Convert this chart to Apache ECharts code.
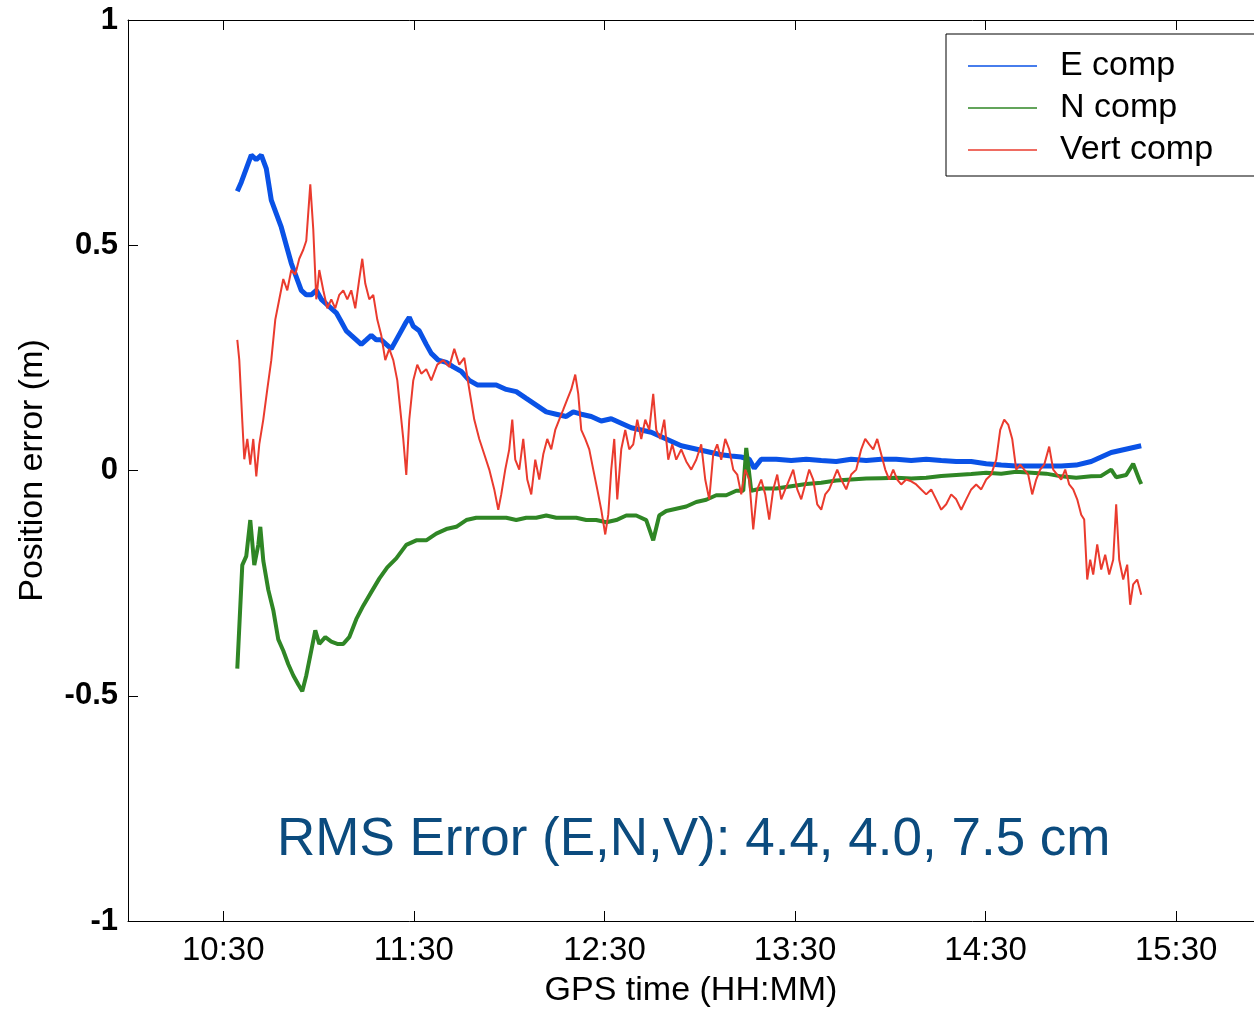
<!DOCTYPE html>
<html>
<head>
    <meta charset="UTF-8">
    <title>GPS position error</title>
    <script src="https://cdn.jsdelivr.net/npm/echarts@6/dist/echarts.min.js"></script>
    <style>
        html, body { margin: 0; padding: 0; background: #fff; }
        #main { width: 1254px; height: 1009px; }
    </style>
</head>
<body>
    <div id="main"></div>
    <script type="text/javascript">
        // times are minutes after 10:30 GPS time, values in metres
        const eT = [4.41, 5.67, 7.24, 8.81, 10.39, 11.96, 13.54, 15.11, 16.68, 18.26, 19.83, 21.41, 22.98, 24.55, 26.13,
            27.70, 29.28, 30.85, 32.42, 34.00, 35.57, 37.15, 38.72, 40.29, 41.87, 43.44, 45.02, 46.59, 48.16, 49.74,
            51.31, 52.89, 54.46, 56.03, 57.61, 58.55, 59.81, 61.70, 63.90, 65.48, 67.68, 70.20, 72.40, 74.92, 77.44,
            79.96, 82.79, 85.94, 89.09, 92.24, 95.38, 98.53, 101.68, 104.83, 107.98, 110.18, 112.70, 115.85, 118.99,
            122.14, 125.29, 128.44, 131.59, 134.73, 137.88, 141.03, 144.18, 147.33, 150.47, 153.62, 156.77, 159.92,
            163.07, 165.58, 167.16, 169.36, 174.08, 178.81, 183.53, 188.25, 192.97, 197.69, 202.42, 207.14, 211.86,
            216.58, 221.30, 226.03, 230.75, 235.47, 240.19, 244.91, 249.64, 254.36, 259.08, 263.80, 268.52, 273.25,
            276.39, 279.54, 282.69, 285.84, 288.99];
        const eV = [0.62, 0.64, 0.67, 0.70, 0.69, 0.70, 0.67, 0.60, 0.57, 0.54, 0.50, 0.46, 0.43, 0.40, 0.39,
            0.39, 0.40, 0.38, 0.37, 0.36, 0.35, 0.33, 0.31, 0.30, 0.29, 0.28, 0.29, 0.30, 0.29, 0.29,
            0.28, 0.27, 0.29, 0.31, 0.33, 0.34, 0.32, 0.31, 0.28, 0.26, 0.245, 0.24, 0.23, 0.22, 0.20,
            0.19, 0.19, 0.19, 0.18, 0.175, 0.16, 0.145, 0.13, 0.125, 0.12, 0.13, 0.125, 0.12, 0.11,
            0.115, 0.105, 0.095, 0.09, 0.085, 0.075, 0.065, 0.055, 0.05, 0.045, 0.04, 0.035, 0.032,
            0.03, 0.025, 0.005, 0.025, 0.025, 0.022, 0.025, 0.022, 0.02, 0.025, 0.022, 0.025, 0.025,
            0.022, 0.025, 0.022, 0.02, 0.02, 0.015, 0.012, 0.01, 0.01, 0.01, 0.01, 0.012, 0.02,
            0.03, 0.04, 0.045, 0.05, 0.055];

        const nT = [4.41, 5.98, 7.24, 8.50, 9.76, 11.02, 11.65, 12.59, 14.17, 15.74, 17.31, 18.89, 20.46, 22.04, 23.61,
            24.87, 26.13, 27.70, 28.96, 30.22, 32.11, 34.00, 35.89, 37.78, 39.66, 41.87, 44.07, 46.59, 49.11, 51.63,
            54.46, 57.61, 60.76, 63.90, 67.05, 70.20, 73.35, 76.50, 79.64, 82.79, 85.94, 89.09, 92.24, 95.38, 98.53,
            101.68, 104.83, 107.98, 111.12, 114.27, 117.42, 120.57, 123.72, 126.86, 130.01, 133.16, 135.36, 137.25,
            139.45, 142.60, 145.75, 148.90, 152.05, 155.20, 158.34, 161.49, 163.70, 164.64, 166.21, 169.36, 174.08,
            178.81, 183.53, 188.25, 192.97, 197.69, 202.42, 207.14, 211.86, 216.58, 221.30, 226.03, 230.75, 235.47,
            240.19, 244.91, 249.64, 254.36, 259.08, 263.80, 268.52, 273.25, 276.39, 279.54, 281.11, 284.26, 286.46,
            288.36, 288.99];
        const nV = [-0.44, -0.21, -0.19, -0.11, -0.21, -0.165, -0.125, -0.20, -0.265, -0.31, -0.375, -0.40, -0.43, -0.455, -0.475,
            -0.49, -0.455, -0.40, -0.355, -0.385, -0.37, -0.38, -0.385, -0.385, -0.37, -0.33, -0.30, -0.27, -0.24, -0.215,
            -0.195, -0.165, -0.155, -0.155, -0.14, -0.13, -0.125, -0.11, -0.105, -0.105, -0.105, -0.105, -0.11, -0.105, -0.105,
            -0.10, -0.105, -0.105, -0.105, -0.11, -0.11, -0.115, -0.11, -0.10, -0.10, -0.11, -0.155, -0.10,
            -0.09, -0.085, -0.08, -0.07, -0.065, -0.055, -0.055, -0.045, -0.045, 0.05, -0.045, -0.04, -0.04,
            -0.035, -0.03, -0.027, -0.022, -0.02, -0.018, -0.017, -0.016, -0.018, -0.016, -0.012, -0.01, -0.008,
            -0.005, -0.007, -0.003, -0.005, -0.007, -0.013, -0.016, -0.013, -0.012, 0.002, -0.015, -0.01, 0.015,
            -0.02, -0.03];

        const vT = [4.41, 5.04, 5.98, 6.61, 7.56, 8.50, 9.44, 10.39, 11.33, 12.59, 13.85, 15.11, 16.37, 17.63, 18.89,
            20.15, 21.41, 22.67, 23.92, 25.18, 26.13, 27.39, 28.33, 29.28, 30.22, 31.48, 32.74, 34.00, 35.26, 36.52,
            37.78, 39.04, 40.29, 41.55, 42.81, 43.76, 44.70, 45.96, 47.22, 48.48, 49.74, 51.00, 52.26, 53.52, 54.78,
            55.72, 56.66, 57.61, 58.55, 59.81, 61.07, 62.33, 63.90, 65.48, 67.37, 69.26, 71.14, 72.72, 74.29, 75.87,
            77.44, 79.01, 80.59, 82.16, 83.74, 85.31, 86.57, 87.51, 88.77, 90.03, 90.98, 91.92, 93.18, 94.44, 95.70,
            96.96, 98.22, 99.48, 100.74, 101.99, 103.25, 104.51, 105.77, 107.03, 108.29, 109.55, 110.81, 111.75, 112.70,
            113.96, 115.22, 116.48, 117.74, 118.99, 120.25, 121.20, 122.14, 123.09, 124.03, 125.29, 126.55, 127.81,
            129.07, 130.33, 131.59, 132.85, 134.11, 135.36, 136.31, 137.57, 138.83, 140.09, 141.35, 142.60, 144.18,
            145.75, 147.33, 148.90, 150.47, 151.73, 152.99, 154.25, 155.51, 156.77, 158.03, 159.29, 160.55, 161.81,
            163.07, 164.33, 165.58, 166.84, 168.10, 169.36, 170.62, 171.88, 173.14, 174.40, 175.66, 176.92, 178.18,
            179.44, 180.70, 181.95, 183.21, 184.47, 185.73, 186.99, 188.25, 189.51, 190.77, 192.03, 193.29, 194.55,
            196.12, 197.69, 199.27, 200.84, 202.10, 203.36, 204.62, 205.88, 207.14, 208.40, 209.66, 210.92, 212.18,
            213.43, 215.01, 216.58, 218.16, 219.73, 221.30, 222.88, 224.45, 226.03, 227.60, 229.17, 230.75, 232.32,
            233.90, 235.47, 237.04, 238.62, 240.19, 241.77, 243.34, 244.60, 245.86, 247.12, 248.38, 249.64, 250.90,
            252.15, 253.41, 254.67, 255.93, 257.19, 258.45, 260.02, 261.28, 262.54, 263.80, 265.06, 266.32, 267.58,
            268.84, 270.10, 271.04, 271.99, 272.93, 273.88, 275.14, 276.39, 277.65, 278.91, 280.17, 281.11, 282.06,
            283.32, 284.58, 285.52, 286.46, 287.72, 288.99];
        const vV = [0.29, 0.245, 0.11, 0.025, 0.07, 0.013, 0.07, -0.013, 0.058, 0.113, 0.18, 0.245, 0.335, 0.38, 0.425,
            0.40, 0.445, 0.435, 0.47, 0.49, 0.51, 0.635, 0.535, 0.38, 0.445, 0.40, 0.36, 0.38, 0.36, 0.39,
            0.40, 0.38, 0.40, 0.36, 0.425, 0.47, 0.415, 0.38, 0.39, 0.335, 0.30, 0.245, 0.27, 0.245, 0.20,
            0.135, 0.07, -0.01, 0.113, 0.20, 0.235, 0.215, 0.225, 0.20, 0.235, 0.245, 0.23, 0.27, 0.235, 0.25,
            0.18, 0.113, 0.07, 0.036, 0.002, -0.042, -0.087, -0.053, 0.002, 0.047, 0.113, 0.024, 0.002, 0.07, -0.02,
            -0.053, 0.024, -0.02, 0.036, 0.07, 0.047, 0.09, 0.113, 0.135, 0.158, 0.18, 0.213, 0.17, 0.09,
            0.07, 0.047, 0.002, -0.042, -0.087, -0.142, -0.098, 0.002, 0.07, -0.064, 0.047, 0.09, 0.047,
            0.058, 0.113, 0.07, 0.113, 0.09, 0.17, 0.09, 0.07, 0.113, 0.024, 0.058, 0.024, 0.047,
            0.02, 0.002, 0.024, 0.058, -0.02, -0.064, 0.036, 0.058, 0.024, 0.07, 0.047, 0.002, -0.009,
            -0.053, 0.002, -0.02, -0.131, -0.042, -0.02, -0.053, -0.109, -0.042, -0.009, -0.064, -0.042, -0.02,
            0.002, -0.042, -0.064, -0.031, 0.002, -0.02, -0.075, -0.087, -0.053, -0.042, -0.02, 0.002, -0.02,
            -0.042, -0.009, 0.002, 0.047, 0.07, 0.058, 0.047, 0.07, 0.036, 0.002, -0.02, 0.002, -0.02,
            -0.031, -0.02, -0.024, -0.031, -0.042, -0.053, -0.042, -0.064, -0.087, -0.075, -0.053, -0.064, -0.087,
            -0.064, -0.042, -0.031, -0.042, -0.02, -0.009, 0.024, 0.09, 0.113, 0.102, 0.07, 0.002, 0.013,
            0.002, -0.009, -0.053, -0.02, 0.002, 0.013, 0.053, 0.002, -0.009, -0.02, 0.002, -0.031, -0.042,
            -0.064, -0.098, -0.109, -0.242, -0.198, -0.231, -0.164, -0.22, -0.187, -0.231, -0.198, -0.075, -0.198,
            -0.242, -0.209, -0.298, -0.253, -0.242, -0.276];

        const tickTimes = [630, 690, 750, 810, 870, 930];
        const rmsText = 'RMS Error (E,N,V): 4.4, 4.0, 7.5 cm';

        const font = 'Liberation Sans, Arial, Helvetica, sans-serif';
        const start = 630; // 10:30 in minutes of day

        function pairs(ts, vs) {
            return ts.map((t, i) => [start + t, vs[i]]);
        }

        function hhmm(v) {
            let h = Math.floor(v / 60);
            let m = Math.round(v % 60);
            return h + ':' + (m < 10 ? '0' + m : m);
        }

        let chart = echarts.init(document.getElementById('main'));

        // the original axes run on past the right edge of the picture, so stop the range there
        let xBase = {
            type: 'value',
            min: 600,
            max: 954.5,
            splitLine: { show: false },
            axisLine: { onZero: false, lineStyle: { color: '#000', width: 1 } },
            axisTick: { inside: true, length: 10, customValues: tickTimes, lineStyle: { color: '#000' } }
        };

        let option = {
            animation: false,
            backgroundColor: '#fff',
            title: {
                text: rmsText,
                left: 272,
                top: 809,
                textStyle: { fontFamily: font, fontSize: 53, fontWeight: 'normal', color: '#0b4b7e' }
            },
            legend: {
                left: 946,
                top: 34,
                orient: 'vertical',
                borderColor: '#000',
                borderWidth: 1,
                borderRadius: 0,
                backgroundColor: '#fff',
                padding: [15, 120, 9, 22],
                itemGap: 8,
                itemWidth: 69,
                itemHeight: 1.5,
                icon: 'rect',
                textStyle: { fontFamily: font, fontSize: 34, color: '#000', padding: [0, 0, 0, 18] },
                data: ['E comp', 'N comp', 'Vert comp']
            },
            grid: { left: 128, top: 20, bottom: 88, right: 0, outerBoundsMode: 'none' },
            xAxis: [
                Object.assign({}, xBase, {
                    position: 'bottom',
                    name: 'GPS time (HH:MM)',
                    nameLocation: 'middle',
                    nameGap: 53,
                    nameTextStyle: { fontFamily: font, fontSize: 34, color: '#000' },
                    axisLabel: {
                        customValues: tickTimes,
                        margin: 13,
                        fontFamily: font,
                        fontSize: 33,
                        color: '#000',
                        formatter: hhmm
                    }
                }),
                Object.assign({}, xBase, {
                    position: 'top',
                    axisLabel: { show: false }
                })
            ],
            yAxis: {
                type: 'value',
                min: -1,
                max: 1,
                interval: 0.5,
                name: 'Position error (m)',
                nameLocation: 'middle',
                nameGap: 78,
                nameTextStyle: { fontFamily: font, fontSize: 34, color: '#000' },
                splitLine: { show: false },
                axisLine: { onZero: false, lineStyle: { color: '#000', width: 1 } },
                axisTick: { inside: true, length: 10, lineStyle: { color: '#000' } },
                axisLabel: {
                    margin: 10,
                    fontFamily: font,
                    fontSize: 31,
                    fontWeight: 'bold',
                    color: '#000',
                    formatter: v => String(v)
                }
            },
            series: [
                {
                    name: 'E comp',
                    type: 'line',
                    symbol: 'none',
                    color: '#0a52e6',
                    lineStyle: { width: 5 },
                    data: pairs(eT, eV)
                },
                {
                    name: 'N comp',
                    type: 'line',
                    symbol: 'none',
                    color: '#2f8625',
                    lineStyle: { width: 4 },
                    data: pairs(nT, nV)
                },
                {
                    name: 'Vert comp',
                    type: 'line',
                    symbol: 'none',
                    color: '#ea3b2e',
                    lineStyle: { width: 2 },
                    data: pairs(vT, vV)
                }
            ]
        };

        chart.setOption(option);
    </script>
</body>
</html>
